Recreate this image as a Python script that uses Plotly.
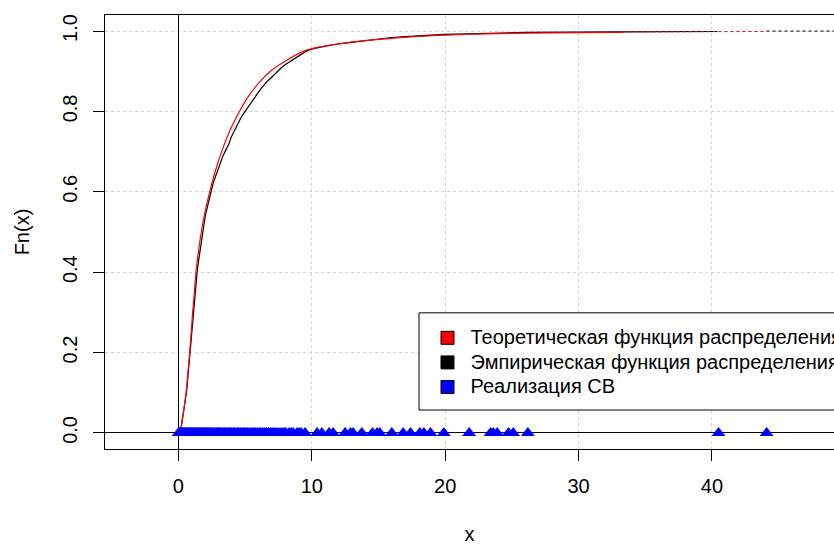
import plotly.graph_objects as go

# ---- data ----
theory_x = [0.15, 0.2, 0.3, 0.4, 0.5, 0.58, 0.7, 0.85, 0.96, 1.07, 1.2, 1.32, 1.5, 1.72, 2.0,
            2.35, 2.8, 3.3, 3.9, 4.5, 5.2, 6.0, 6.9, 8.0, 9.4, 10.5, 12, 14, 16, 18, 20, 23,
            26, 30, 33.3]
theory_y = [0.0, 0.01, 0.035, 0.055, 0.08, 0.10, 0.145, 0.20, 0.25, 0.30, 0.35, 0.40, 0.45,
            0.50, 0.55, 0.60, 0.655, 0.705, 0.755, 0.795, 0.835, 0.87, 0.90, 0.925, 0.95,
            0.96, 0.968, 0.976, 0.982, 0.987, 0.99, 0.993, 0.995, 0.996, 0.997]
theory_tail_x = [33.3, 44.1]
theory_tail_y = [0.998, 0.999]

ecdf_x = [0.15, 0.2, 0.25, 0.3, 0.35, 0.4, 0.45, 0.5, 0.55, 0.6, 0.65, 0.7, 0.75, 0.8, 0.85,
          0.9, 0.95, 1.0, 1.05, 1.1, 1.15, 1.2, 1.25, 1.3, 1.35, 1.42, 1.5, 1.58, 1.66, 1.75,
          1.85, 1.95, 2.05, 2.15, 2.25, 2.35, 2.45, 2.6, 2.75, 2.9, 3.05, 3.2, 3.35, 3.5,
          3.65, 3.8, 3.95, 4.1, 4.3, 4.5, 4.7, 4.9, 5.1, 5.3, 5.5, 5.7, 5.9, 6.15, 6.4,
          6.65, 6.9, 7.15, 7.4, 7.7, 8.0, 8.3, 8.6, 8.9, 9.2, 9.5, 9.8, 10.2, 10.6, 11.1,
          11.6, 12.2, 12.9, 13.6, 14.4, 15.1, 16.0, 17.0, 18.1, 19.0, 19.9, 21.8, 23.5,
          24.8, 26.2, 33.3, 40.4]
ecdf_y = [0.0, 0.01, 0.02, 0.03, 0.045, 0.055, 0.065, 0.075, 0.09, 0.10, 0.115, 0.135, 0.15,
          0.17, 0.19, 0.205, 0.225, 0.25, 0.27, 0.29, 0.31, 0.33, 0.35, 0.37, 0.385, 0.405,
          0.425, 0.445, 0.465, 0.485, 0.505, 0.525, 0.545, 0.56, 0.575, 0.59, 0.605, 0.62,
          0.635, 0.65, 0.665, 0.675, 0.69, 0.70, 0.71, 0.72, 0.735, 0.745, 0.76, 0.77, 0.785,
          0.795, 0.805, 0.815, 0.825, 0.835, 0.845, 0.855, 0.865, 0.875, 0.882, 0.89, 0.90,
          0.908, 0.916, 0.923, 0.93, 0.936, 0.942, 0.948, 0.953, 0.957, 0.96, 0.963, 0.966,
          0.969, 0.972, 0.975, 0.978, 0.981, 0.984, 0.986, 0.988, 0.99, 0.992, 0.993, 0.995,
          0.996, 0.997, 0.998, 0.999]
ecdf_tail_x = [44.1, 49.5]
ecdf_tail_y = [1.0, 1.0]

sample_x = [0.02, 0.08, 0.14, 0.2, 0.27, 0.33, 0.4, 0.46, 0.52, 0.6, 0.67, 0.73, 0.8, 0.86,
            0.93, 1.0, 1.07, 1.13, 1.21, 1.28, 1.35, 1.42, 1.5, 1.57, 1.64, 1.72, 1.8, 1.87,
            1.95, 2.03, 2.1, 2.18, 2.26, 2.34, 2.41, 2.5, 2.58, 2.66, 2.75, 2.83, 2.92, 3.0,
            3.09, 3.18, 3.27, 3.36, 3.45, 3.55, 3.64, 3.73, 3.83, 3.92, 4.02, 4.12, 4.22,
            4.32, 4.43, 4.53, 4.64, 4.75, 4.86, 4.97, 5.09, 5.2, 5.32, 5.44, 5.56, 5.68,
            5.81, 5.94, 6.06, 6.19, 6.33, 6.46, 6.6, 6.74, 6.88, 7.02, 7.17, 7.31, 7.46,
            7.62, 7.77, 7.93, 8.05, 8.3, 8.45, 8.6, 8.9, 9.05, 9.2, 9.5,
            10.4, 10.75, 11.3, 11.6, 12.5, 12.9, 13.1, 13.75, 14.55, 14.9, 15.1, 16.0,
            16.85, 17.4, 18.1, 18.4, 18.9, 19.9, 21.8, 23.4, 23.6, 23.9, 24.75, 25.1,
            26.2, 40.5, 44.1]
sample_y = [0.0] * len(sample_x)

x_ticks = [0, 10, 20, 30, 40]
y_ticks = [0.0, 0.2, 0.4, 0.6, 0.8, 1.0]
y_ticktext = ["0.0", "0.2", "0.4", "0.6", "0.8", "1.0"]

legend_names = ["Теоретическая функция распределения",
                "Эмпирическая функция распределения",
                "Реализация СВ"]
legend_colors = ["#FF0000", "#000000", "#0000FF"]

FONT = "Liberation Sans, Arial, sans-serif"
FS = 20
LFS = 16.6   # sets the legend row spacing; the text itself is drawn at FS

fig = go.Figure()

fig.add_trace(go.Scatter(x=ecdf_x, y=ecdf_y, mode="lines", line=dict(color="black", width=1.2),
                         showlegend=False, hoverinfo="skip"))
fig.add_trace(go.Scatter(x=ecdf_tail_x, y=ecdf_tail_y, mode="lines",
                         line=dict(color="black", width=1, dash="dot"), showlegend=False, hoverinfo="skip"))
fig.add_trace(go.Scatter(x=theory_x, y=theory_y, mode="lines", line=dict(color="#FF0000", width=1.2),
                         line_shape="spline", showlegend=False, hoverinfo="skip"))
fig.add_trace(go.Scatter(x=theory_tail_x, y=theory_tail_y, mode="lines",
                         line=dict(color="#FF0000", width=1, dash="dot"), showlegend=False, hoverinfo="skip"))
fig.add_trace(go.Scatter(x=sample_x, y=sample_y, mode="markers",
                         marker=dict(symbol="triangle-up", size=12, color="#0000FF", line=dict(width=0)),
                         showlegend=False, hoverinfo="skip"))

for name, col in zip(legend_names, legend_colors):
    fig.add_trace(go.Scatter(x=[None], y=[None], mode="markers",
                             name='<span style="font-size:%gpx">%s</span>' % (FS, name),
                             marker=dict(symbol="square", size=13, color=col,
                                         line=dict(color="black", width=1))))

grid = dict(showgrid=True, gridcolor="#D3D3D3", griddash="dot", gridwidth=1)

fig.update_layout(
    width=834, height=545,
    margin=dict(l=105, r=0, t=14.5, b=96, pad=0, autoexpand=False),
    paper_bgcolor="white", plot_bgcolor="white",
    font=dict(family=FONT, size=FS, color="black"),
    xaxis=dict(range=[-5.5, 49.15], tickvals=x_ticks, ticks="outside", ticklen=11,
               tickcolor="black", showline=True, linecolor="black", linewidth=1, mirror=True,
               zeroline=True, zerolinecolor="black", zerolinewidth=1,
               ticklabelstandoff=8, automargin=False,
               title=dict(text="x", standoff=32, font=dict(size=FS)), **grid),
    yaxis=dict(range=[-0.04, 1.04], tickvals=y_ticks, ticktext=y_ticktext, ticks="outside",
               ticklen=11, tickcolor="black", showline=True, linecolor="black", linewidth=1,
               mirror=False, zeroline=True, zerolinecolor="black", zerolinewidth=1,
               tickangle=-90, ticklabelstandoff=8, automargin=False,
               title=dict(text="Fn(x)", standoff=24, font=dict(size=FS)), **grid),
    legend=dict(x=(424.5 - 105) / 729, xanchor="left", y=0.296, yanchor="top",
                bgcolor="rgba(0,0,0,0)", borderwidth=0, itemwidth=36,
                font=dict(family=FONT, size=LFS, color="black"), itemsizing="trace"),
    shapes=[dict(type="rect", xref="paper", yref="paper", x0=(419 - 105) / 729, x1=1.2,
                 y0=0.0898, y1=0.3137, line=dict(color="black", width=1),
                 fillcolor="white", layer="above")],
)

fig.write_html("out.html", config={"displayModeBar": False},
               post_script="document.body.style.margin='0';document.body.style.padding='0';")
